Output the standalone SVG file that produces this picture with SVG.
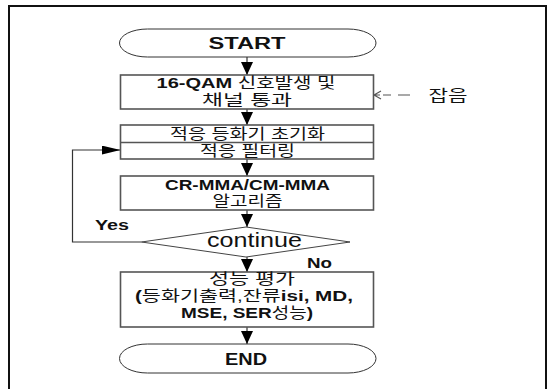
<svg xmlns="http://www.w3.org/2000/svg" width="549" height="389" viewBox="0 0 549 389">
<defs>
<marker id="ah" markerUnits="userSpaceOnUse" markerWidth="14" markerHeight="14" refX="13" refY="6" orient="auto">
<path d="M0,0 L13,6 L0,12 Z" fill="#000"/>
</marker>
<marker id="ahl" markerUnits="userSpaceOnUse" markerWidth="20" markerHeight="12" refX="19" refY="4.5" orient="auto">
<path d="M0,0 L19,4.5 L0,9 Z" fill="#000"/>
</marker>
<style>
.box{fill:#fff;stroke:#555;stroke-width:1.6}
.term{fill:#fff;stroke:#333;stroke-width:1}
.con{fill:none;stroke:#333;stroke-width:1.2}
text{font-family:"Liberation Sans","Noto Sans CJK KR",sans-serif;fill:#111;text-anchor:middle}
.t{font-size:15px}
.b{font-weight:bold}
.k{font-weight:normal}
</style>
</defs>
<rect width="549" height="389" fill="#fff"/>
<path d="M9,389 V6 H546 V389" fill="none" stroke="#111" stroke-width="2"/>
<g id="connectors">
<line class="con" x1="247" y1="57" x2="247" y2="75" marker-end="url(#ah)"/>
<line class="con" x1="247" y1="109" x2="247" y2="125" marker-end="url(#ah)"/>
<line class="con" x1="247" y1="159" x2="247" y2="176" marker-end="url(#ah)"/>
<line class="con" x1="247" y1="210" x2="247" y2="227" marker-end="url(#ah)"/>
<line class="con" x1="247" y1="257" x2="247" y2="272" marker-end="url(#ah)"/>
<line class="con" x1="247" y1="327" x2="247" y2="344" marker-end="url(#ah)"/>
<polyline class="con" points="141.5,242 72.5,242 72.5,150 120.5,150" marker-end="url(#ahl)"/>
<path d="M381,91 L374,95 L381,99 M374,95 H380 M383,95 H391 M398,95 H410" fill="none" stroke="#555" stroke-width="1.2"/>
</g>
<g id="start">
<rect class="term" x="119.5" y="29" width="256.5" height="28" rx="28" ry="14"/>
<text class="b" x="247" y="49" font-size="16" textLength="77" lengthAdjust="spacingAndGlyphs">START</text>
</g>
<g id="box1">
<rect class="box" x="120.5" y="75" width="253" height="34"/>
<text class="t" x="246" y="88" textLength="179" lengthAdjust="spacingAndGlyphs"><tspan class="b">16-QAM</tspan> <tspan class="k">신호발생 및</tspan></text>
<text class="t" x="247" y="105" textLength="90" lengthAdjust="spacingAndGlyphs">채널 통과</text>
</g>
<g id="noise">
<text x="448" y="100.5" font-size="16" textLength="39" lengthAdjust="spacingAndGlyphs">잡음</text>
</g>
<g id="box2">
<rect class="box" x="120.5" y="125" width="253" height="34"/>
<line x1="120.5" y1="142.5" x2="373.5" y2="142.5" stroke="#555" stroke-width="1.6"/>
<text class="t" x="247.5" y="138.5" textLength="155" lengthAdjust="spacingAndGlyphs">적응 등화기 초기화</text>
<text class="t" x="247.5" y="156" textLength="95" lengthAdjust="spacingAndGlyphs">적응 필터링</text>
</g>
<g id="box3">
<rect class="box" x="120.5" y="176" width="253" height="34"/>
<text class="t b" x="247.5" y="189.5" textLength="165" lengthAdjust="spacingAndGlyphs">CR-MMA/CM-MMA</text>
<text class="t" x="247.5" y="206" textLength="70" lengthAdjust="spacingAndGlyphs">알고리즘</text>
</g>
<g id="decision">
<polygon points="246,227 350,242 246,257 141.5,242" fill="#fff" stroke="#444" stroke-width="1"/>
<text x="254.5" y="247" font-size="20" textLength="95" lengthAdjust="spacingAndGlyphs">continue</text>
<text class="b" x="112" y="230" font-size="14" textLength="34" lengthAdjust="spacingAndGlyphs">Yes</text>
<text class="b" x="319.5" y="268" font-size="14" textLength="25" lengthAdjust="spacingAndGlyphs">No</text>
</g>
<g id="box4">
<rect class="box" x="120.5" y="272" width="253" height="55"/>
<text class="t" x="252" y="284" textLength="86" lengthAdjust="spacingAndGlyphs">성능 평가</text>
<text class="t" x="244" y="301" textLength="218" lengthAdjust="spacingAndGlyphs"><tspan class="b">(</tspan>등화기출력,잔류<tspan class="b">isi, MD,</tspan></text>
<text class="t" x="247" y="318" textLength="132" lengthAdjust="spacingAndGlyphs"><tspan class="b">MSE, SER</tspan>성능<tspan class="b">)</tspan></text>
</g>
<g id="end">
<rect class="term" x="119.5" y="344" width="256.5" height="29" rx="28" ry="14.5"/>
<text class="b" x="246" y="364.5" font-size="16" textLength="42" lengthAdjust="spacingAndGlyphs">END</text>
</g>
</svg>
